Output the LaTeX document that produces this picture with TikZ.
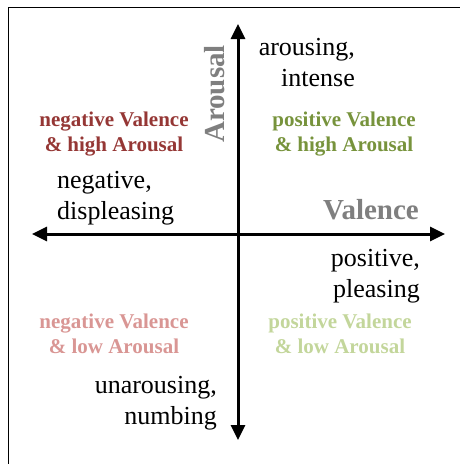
\documentclass[tikz,border=0pt]{standalone}
\usepackage{fontspec}
\setmainfont{Liberation Serif}
\usetikzlibrary{arrows.meta}
\definecolor{negHigh}{HTML}{953735}
\definecolor{posHigh}{HTML}{77933C}
\definecolor{negLow}{HTML}{D99694}
\definecolor{posLow}{HTML}{C3D69B}
\definecolor{axisGray}{HTML}{7F7F7F}
\tikzset{
  axisarrow/.style={line width=3pt,{Triangle[length=15pt,width=14pt]}-{Triangle[length=15pt,width=14pt]}},
  plainlabel/.style={inner sep=0pt,font=\fontsize{26}{31}\selectfont},
  quadlabel/.style={inner sep=0pt,align=center,font=\bfseries\fontsize{21}{25}\selectfont},
  axislabel/.style={inner sep=0pt,text=axisGray,font=\bfseries\fontsize{29}{32}\selectfont},
}
\begin{document}
\begin{tikzpicture}[x=1pt,y=-1pt]
\useasboundingbox (0,0) rectangle (460,464);
\draw[line width=1pt] (8.5,464) -- (8.5,7.3) -- (460,7.3);
\coordinate (left) at (32,234);
\coordinate (right) at (445,234);
\coordinate (top) at (238,24);
\coordinate (bottom) at (238,440);
\draw[axisarrow] (left) -- (right);
\draw[axisarrow] (bottom) -- (top);
\node[axislabel,anchor=base east] (val) at (419,219) {Valence};
\node[axislabel,anchor=base,rotate=90] (aro) at (224,94) {Arousal};
\node[plainlabel,align=right,anchor=east] (ai) at (355,63) {arousing,\\intense};
\node[plainlabel,align=left,anchor=west] (nd) at (57,198) {negative,\\displeasing};
\node[plainlabel,align=right,anchor=east] (pp) at (420,276) {positive,\\pleasing};
\node[plainlabel,align=right,anchor=east] (un) at (217,403) {unarousing,\\numbing};
\node[quadlabel,text=negHigh] (nh) at (114,134) {negative Valence\\\& high Arousal};
\node[quadlabel,text=posHigh] (ph) at (344,134) {positive Valence\\\& high Arousal};
\node[quadlabel,text=negLow] (nl) at (114,334) {negative Valence\\\& low Arousal};
\node[quadlabel,text=posLow] (pl) at (340,334) {positive Valence\\\& low Arousal};
\end{tikzpicture}
\end{document}
